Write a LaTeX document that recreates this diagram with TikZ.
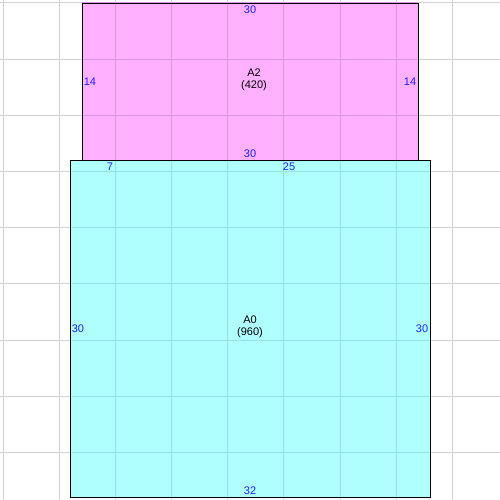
\documentclass[tikz,border=0pt]{standalone}
\usepackage{fontspec}
\setmainfont{Liberation Sans}
\usepackage{xcolor}
\definecolor{gridline}{RGB}{208,208,208}
\definecolor{sheettwo}{RGB}{255,176,255}
\definecolor{sheettwogrid}{RGB}{216,150,226}
\definecolor{sheetzero}{RGB}{176,255,255}
\definecolor{sheetzerogrid}{RGB}{150,224,226}
\definecolor{dimtext}{RGB}{30,30,255}
\usetikzlibrary{positioning}
\usetikzlibrary{calc}

\tikzset{
    dimlabel/.style={text=dimtext, font=\fontsize{11}{12}\selectfont, inner sep=0pt},
    sheetname/.style={align=center, font=\fontsize{11}{11.5}\selectfont, inner sep=0pt},
    sheet/.style={draw=black, line width=0.8pt}
}

\begin{document}
\begin{tikzpicture}[x=1pt, y=-1pt]
    \useasboundingbox (0,0) rectangle (500,500);
    \fill[white] (0,0) rectangle (500,500);

    % background grid
    \foreach \k in {0,...,8} {
        \draw[gridline, line width=1pt] ({3+56.17*\k},0) -- ({3+56.17*\k},500);
        \draw[gridline, line width=1pt] (0,{3+56.17*\k}) -- (500,{3+56.17*\k});
    }

    % sheet A2
    \fill[sheettwo] (82,3) rectangle (418,160);
    \begin{scope}
        \clip (82,3) rectangle (418,160);
        \foreach \k in {0,...,8} {
            \draw[sheettwogrid, line width=1pt] ({3+56.17*\k},0) -- ({3+56.17*\k},500);
            \draw[sheettwogrid, line width=1pt] (0,{3+56.17*\k}) -- (500,{3+56.17*\k});
        }
    \end{scope}

    % sheet A0
    \fill[sheetzero] (70,160) rectangle (430,497);
    \begin{scope}
        \clip (70,160) rectangle (430,497);
        \foreach \k in {0,...,8} {
            \draw[sheetzerogrid, line width=1pt] ({3+56.17*\k},0) -- ({3+56.17*\k},500);
            \draw[sheetzerogrid, line width=1pt] (0,{3+56.17*\k}) -- (500,{3+56.17*\k});
        }
    \end{scope}

    \draw[sheet] (82,160) -- (82,3) -- (418,3) -- (418,160);
    \draw[sheet] (70,160) rectangle (430,497);

    % labels of A2
    \node[sheetname] (atwo) at (254,80) {A2\\(420)};
    \node[dimlabel] (atwotop) at (250,10) {30};
    \node[dimlabel] (atwobottom) at (250,154) {30};
    \node[dimlabel] (atwoleft) at (90,82) {14};
    \node[dimlabel] (atworight) at (410,82) {14};

    % labels of A0
    \node[sheetname] (azero) at (250,327) {A0\\(960)};
    \node[dimlabel] (azerotopleft) at (110,167) {7};
    \node[dimlabel] (azerotop) at (289,167) {25};
    \node[dimlabel] (azeroleft) at (78,329) {30};
    \node[dimlabel] (azeroright) at (422,329) {30};
    \node[dimlabel] (azerobottom) at (250,491) {32};
\end{tikzpicture}
\end{document}
